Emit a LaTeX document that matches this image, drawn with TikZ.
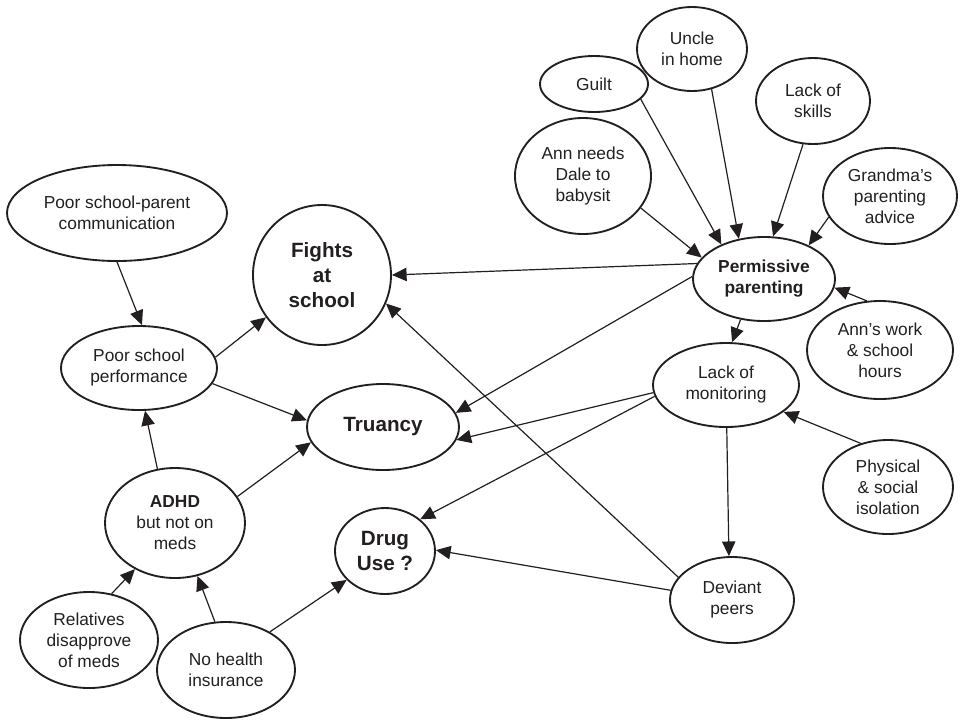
\documentclass[tikz,border=0pt]{standalone}
\usepackage{fontspec}
\setmainfont{Liberation Sans}
\usepackage{tikz}
\usetikzlibrary{positioning, arrows.meta, shapes}
\definecolor{colorink}{HTML}{231F20}
\tikzstyle{cause}=[draw=colorink, ellipse, line width=1.4pt, inner sep=0pt, align=center, text=colorink, font=\fontsize{13}{15.75}\selectfont]
\tikzstyle{outcome}=[cause, font=\fontsize{15.5}{18.5}\selectfont\bfseries]
\tikzstyle{infer}=[-{Triangle[length=11pt, width=10pt]}, line width=0.9pt, draw=colorink]
\tikzset{wh/.style n args={2}{minimum width=#1pt, minimum height=#2pt}}

\begin{document}
\begin{tikzpicture}[x=0.75pt, y=-0.75pt]
\useasboundingbox (0,0) rectangle (960,719);

% causes of permissive parenting
\node[cause, wh={82.5}{63}] (uncle) at (692,49) {Uncle\\in home};
\node[cause, wh={81}{42}] (guilt) at (594,84) {Guilt};
\node[cause, wh={85.5}{64.5}] (skills) at (813,101) {Lack of\\skills};
\node[cause, wh={102}{87}] (dale) at (583,176) {Ann needs\\Dale to\\babysit};
\node[cause, wh={100.5}{72}] (grandma) at (890,196) {Grandma's\\parenting\\advice};
\node[cause, wh={109.5}{73.5}] (work) at (880,350) {Ann's work\\\& school\\hours};
\node[cause, wh={106.5}{63}, font=\fontsize{13}{15.75}\selectfont\bfseries] (perm) at (764,279) {Permissive\\parenting};
\node[cause, wh={109.5}{63}] (monitor) at (726,385) {Lack of\\monitoring};
\node[cause, wh={97.5}{70.5}] (isol) at (888,487) {Physical\\\& social\\isolation};
\node[cause, wh={93}{64.5}] (peers) at (732,600) {Deviant\\peers};

% school side
\node[cause, wh={165}{72}] (comm) at (117,213) {Poor school-parent\\communication};
\node[cause, wh={117}{63}] (perf) at (139,368) {Poor school\\performance};
\node[cause, wh={105}{82.5}] (adhd) at (175,523) {{\bfseries ADHD}\\but not on\\meds};
\node[cause, wh={103.5}{72}] (rel) at (89,640) {Relatives\\disapprove\\of meds};
\node[cause, wh={103.5}{72}] (insur) at (226,670) {No health\\insurance};

% outcomes
\node[outcome, wh={103.5}{105}] (fights) at (322,275) {Fights\\at\\school};
\node[outcome, wh={114}{64.5}] (truancy) at (383,427) {Truancy};
\node[outcome, wh={75}{64.5}] (drug) at (385,551) {Drug\\Use ?};

\draw[infer] (guilt.-18) -- (perm.141);
\draw[infer] (uncle.-64) -- (perm.122);
\draw[infer] (skills.-103) -- (perm.78);
\draw[infer] (grandma.-161) -- (perm.37);
\draw[infer] (dale.-29) -- (perm.161);
\draw[infer] (work.105) -- (perm.-7);

\draw[infer] (perm.167) -- (fights.0);
\draw[infer] (perm.178) -- (truancy.11);
\draw[infer] (perm.-120) -- (monitor.82);
\draw[infer] (monitor.-174) -- (truancy.-10);
\draw[infer] (monitor.-171) -- (drug.42);
\draw[infer] (monitor.-89) -- (peers.94);
\draw[infer] (isol.122) -- (monitor.-25);
\draw[infer] (peers.157) -- (fights.-24);
\draw[infer] (peers.171) -- (drug.1);

\draw[infer] (comm.-90) -- (perf.86);
\draw[infer] (perf.8) -- (fights.-143);
\draw[infer] (perf.-12) -- (truancy.175);
\draw[infer] (adhd.108) -- (perf.-82);
\draw[infer] (adhd.23) -- (truancy.-168);
\draw[infer] (rel.64) -- (adhd.-131);
\draw[infer] (insur.103) -- (adhd.-67);
\draw[infer] (insur.41) -- (drug.-143);

\end{tikzpicture}
\end{document}
